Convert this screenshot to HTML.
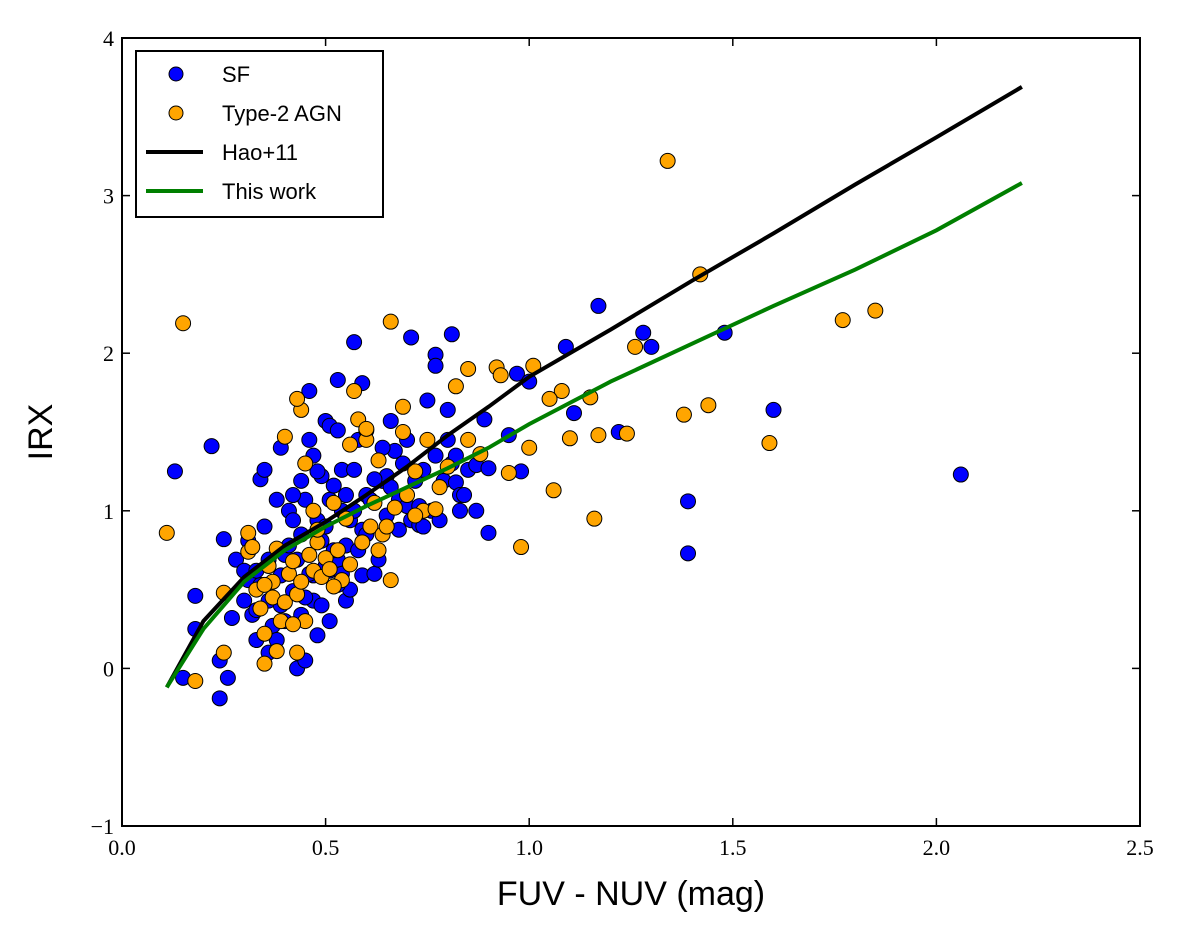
<!DOCTYPE html>
<html><head><meta charset="utf-8"><style>
html,body{margin:0;padding:0;background:#fff;}
svg{display:block;}
.tick{font-family:"Liberation Serif",serif;font-size:22px;fill:#000;}
.lab{font-family:"Liberation Sans",sans-serif;font-size:34px;fill:#000;}
.leg{font-family:"Liberation Sans",sans-serif;font-size:22px;fill:#000;}
</style></head><body>
<svg id="chart" width="1200" height="929" xmlns="http://www.w3.org/2000/svg">
<g id="marks"></g>
<rect x="122" y="38" width="1018" height="788" fill="none" stroke="#000" stroke-width="2"/>
<g id="axes"></g>
<text class="lab" x="631" y="905" text-anchor="middle">FUV - NUV  (mag)</text>
<text class="lab" transform="translate(52,432) rotate(-90)" text-anchor="middle">IRX</text>
<g>
<rect x="136" y="51" width="247" height="166" fill="#fff" stroke="#000" stroke-width="2"/>
<circle cx="176" cy="74" r="7" fill="#0000ff" stroke="#000" stroke-width="1"/>
<text class="leg" x="222" y="82">SF</text>
<circle cx="176" cy="113" r="7" fill="#ffa500" stroke="#000" stroke-width="1"/>
<text class="leg" x="222" y="121">Type-2 AGN</text>
<line x1="146" y1="152" x2="203" y2="152" stroke="#000" stroke-width="4"/>
<text class="leg" x="222" y="160">Hao+11</text>
<line x1="146" y1="191" x2="203" y2="191" stroke="#007f00" stroke-width="4"/>
<text class="leg" x="222" y="199">This work</text>
</g>
</svg>
<script>
const xTicks=[0.0,0.5,1.0,1.5,2.0,2.5];
const xTickLabels=["0.0","0.5","1.0","1.5","2.0","2.5"];
const yTicks=[-1,0,1,2,3,4];
const yTickLabels=["\u22121","0","1","2","3","4"];
const sfPoints=[[0.13,1.25],[0.22,1.41],[0.15,-0.06],[0.18,0.46],[0.18,0.25],[0.24,-0.19],[0.26,-0.06],[0.24,0.05],[0.25,0.82],[0.27,0.32],[0.28,0.69],[0.3,0.43],[0.31,0.81],[0.31,0.56],[0.32,0.34],[0.33,0.18],[0.33,0.37],[0.34,0.53],[0.34,1.2],[0.35,1.26],[0.36,0.69],[0.36,0.43],[0.37,0.27],[0.38,0.18],[0.38,1.07],[0.39,0.59],[0.39,0.4],[0.4,0.72],[0.41,1.0],[0.41,0.78],[0.42,0.49],[0.42,0.94],[0.43,0.69],[0.44,1.19],[0.44,0.34],[0.45,1.07],[0.46,1.76],[0.46,1.45],[0.47,0.43],[0.47,1.35],[0.47,0.59],[0.48,0.94],[0.49,0.81],[0.49,1.22],[0.5,1.57],[0.5,0.65],[0.51,1.07],[0.51,1.54],[0.53,1.83],[0.52,1.16],[0.53,1.51],[0.53,0.69],[0.54,1.0],[0.54,1.26],[0.55,0.43],[0.55,0.78],[0.56,0.5],[0.56,0.94],[0.57,1.26],[0.58,1.45],[0.58,0.75],[0.59,0.59],[0.6,1.1],[0.6,1.51],[0.61,1.07],[0.62,0.6],[0.63,0.69],[0.64,1.19],[0.65,0.97],[0.66,1.57],[0.67,1.38],[0.68,1.07],[0.68,0.88],[0.69,1.3],[0.7,1.03],[0.71,0.94],[0.72,1.19],[0.73,1.03],[0.74,1.26],[0.76,1.0],[0.77,1.35],[0.78,0.94],[0.79,1.19],[0.81,1.3],[0.82,1.35],[0.83,1.0],[0.85,1.26],[0.87,1.29],[0.65,1.22],[0.57,2.07],[0.59,1.81],[0.59,0.88],[0.51,0.62],[0.43,0.0],[0.45,0.05],[0.48,0.21],[0.51,0.3],[0.53,0.53],[0.71,2.1],[0.73,0.91],[0.77,1.99],[0.77,1.92],[0.81,2.12],[0.8,1.64],[0.82,1.18],[0.83,1.1],[0.9,1.27],[0.9,0.86],[0.95,1.48],[0.97,1.87],[0.98,1.25],[1.0,1.82],[0.89,1.58],[0.87,1.0],[1.09,2.04],[1.11,1.62],[1.17,2.3],[1.22,1.5],[1.28,2.13],[1.3,2.04],[1.48,2.13],[1.6,1.64],[1.39,1.06],[1.39,0.73],[2.06,1.23],[0.35,0.9],[0.39,1.4],[0.42,1.1],[0.44,0.85],[0.46,0.6],[0.48,1.25],[0.5,0.9],[0.52,0.75],[0.55,1.1],[0.57,1.0],[0.6,0.85],[0.62,1.2],[0.64,1.4],[0.66,1.15],[0.7,1.45],[0.75,1.7],[0.74,0.9],[0.8,1.45],[0.84,1.1],[0.4,0.3],[0.36,0.1],[0.3,0.62],[0.33,0.62],[0.45,0.45],[0.49,0.4],[0.54,0.6]];
const agnPoints=[[0.15,2.19],[0.11,0.86],[0.18,-0.08],[0.25,0.1],[0.25,0.48],[0.31,0.86],[0.31,0.74],[0.35,0.03],[0.38,0.11],[0.43,0.1],[1.34,3.22],[1.42,2.5],[1.77,2.21],[1.85,2.27],[1.26,2.04],[1.38,1.61],[1.44,1.67],[1.59,1.43],[1.16,0.95],[1.06,1.13],[0.98,0.77],[1.24,1.49],[1.17,1.48],[1.15,1.72],[1.1,1.46],[1.08,1.76],[1.05,1.71],[1.01,1.92],[0.92,1.91],[0.93,1.86],[1.0,1.4],[0.95,1.24],[0.88,1.36],[0.85,1.45],[0.85,1.9],[0.82,1.79],[0.66,2.2],[0.66,0.56],[0.69,1.66],[0.69,1.5],[0.74,1.0],[0.77,1.01],[0.72,0.97],[0.32,0.77],[0.33,0.5],[0.34,0.38],[0.35,0.22],[0.36,0.65],[0.37,0.45],[0.38,0.76],[0.39,0.3],[0.4,0.42],[0.41,0.6],[0.42,0.68],[0.43,0.47],[0.44,0.55],[0.44,1.64],[0.45,0.3],[0.46,0.72],[0.47,0.62],[0.48,0.8],[0.49,0.58],[0.5,0.7],[0.51,0.63],[0.52,1.05],[0.53,0.75],[0.54,0.56],[0.55,0.95],[0.56,0.66],[0.57,1.76],[0.58,1.58],[0.59,0.8],[0.6,1.45],[0.61,0.9],[0.62,1.05],[0.63,1.32],[0.64,0.85],[0.65,0.9],[0.67,1.02],[0.7,1.1],[0.72,1.25],[0.75,1.45],[0.78,1.15],[0.8,1.28],[0.43,1.71],[0.4,1.47],[0.37,0.55],[0.47,1.0],[0.52,0.52],[0.45,1.3],[0.56,1.42],[0.6,1.52],[0.63,0.75],[0.42,0.28],[0.35,0.53],[0.48,0.88]];
const haoCurve=[[0.11,-0.12],[0.2,0.3],[0.3,0.58],[0.4,0.78],[0.5,0.93],[0.6,1.1],[0.7,1.28],[0.8,1.48],[0.9,1.66],[1.0,1.85],[1.2,2.15],[1.4,2.46],[1.6,2.76],[1.8,3.07],[2.0,3.37],[2.21,3.69]];
const thisWorkCurve=[[0.11,-0.12],[0.2,0.25],[0.3,0.55],[0.4,0.75],[0.5,0.9],[0.6,1.03],[0.7,1.15],[0.8,1.27],[0.9,1.4],[1.0,1.55],[1.2,1.82],[1.4,2.06],[1.6,2.3],[1.8,2.53],[2.0,2.78],[2.21,3.08]];

const NS="http://www.w3.org/2000/svg";
const X0=122,X1=1140,Y0=826,Y1=38;
function sx(v){return X0+(v-0)/(2.5-0)*(X1-X0);}
function sy(v){return Y0-(v+1)/5*(Y0-Y1);}
const marks=document.getElementById('marks');
const axes=document.getElementById('axes');
function mk(tag,attrs,parent){const e=document.createElementNS(NS,tag);for(const k in attrs)e.setAttribute(k,attrs[k]);parent.appendChild(e);return e;}

xTicks.forEach((t,i)=>{
  const x=sx(t);
  let l=mk('line',{x1:x,y1:Y0,x2:x,y2:Y0-8,stroke:'#000','stroke-width':1.5},axes);
  
  
  let l2=mk('line',{x1:x,y1:Y1,x2:x,y2:Y1+8,stroke:'#000','stroke-width':1.5},axes);
  
  
  let tx=mk('text',{x:x,y:Y0+29,'text-anchor':'middle','class':'tick'},axes);
  tx.textContent=xTickLabels[i];
  
  
});
yTicks.forEach((t,i)=>{
  const y=sy(t);
  let l=mk('line',{x1:X0,y1:y,x2:X0+8,y2:y,stroke:'#000','stroke-width':1.5},axes);
  
  
  let l2=mk('line',{x1:X1,y1:y,x2:X1-8,y2:y,stroke:'#000','stroke-width':1.5},axes);
  
  
  let tx=mk('text',{x:X0-8,y:y+8,'text-anchor':'end','class':'tick'},axes);
  tx.textContent=yTickLabels[i];
  
  
});
sfPoints.forEach(p=>{
  let c=mk('circle',{cx:sx(p[0]),cy:sy(p[1]),r:7.5,fill:'#0000ff',stroke:'#000','stroke-width':1},marks);
  
  
});
agnPoints.forEach(p=>{
  let c=mk('circle',{cx:sx(p[0]),cy:sy(p[1]),r:7.5,fill:'#ffa500',stroke:'#000','stroke-width':1},marks);
  
  
});
function path(arr){return arr.map((p,i)=>(i?'L':'M')+sx(p[0]).toFixed(1)+','+sy(p[1]).toFixed(1)).join(' ');}
let h=mk('path',{d:path(haoCurve),fill:'none',stroke:'#000','stroke-width':4},marks);


let g=mk('path',{d:path(thisWorkCurve),fill:'none',stroke:'#007f00','stroke-width':4},marks);


</script>
</body></html>
